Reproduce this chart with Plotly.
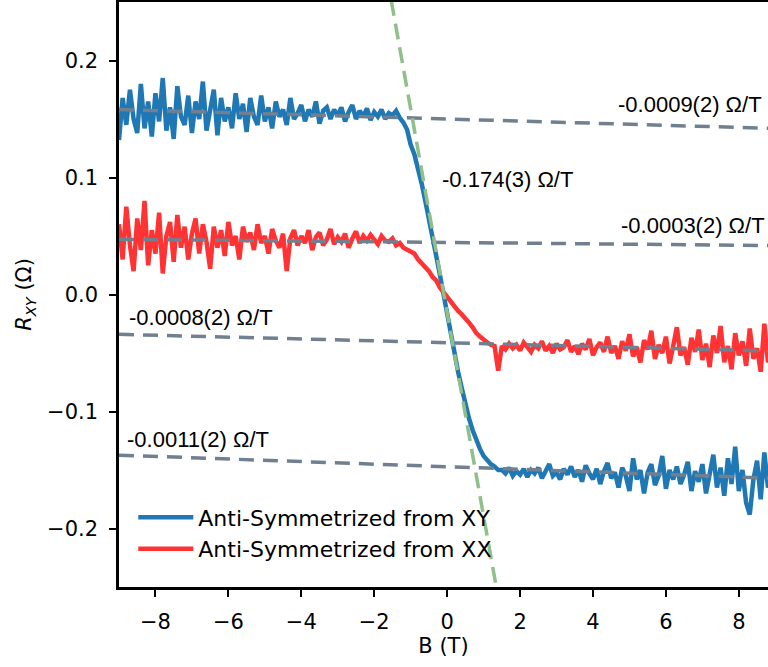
import numpy as np
import plotly.graph_objects as go

# Magnetic field grid (T)
B = np.round(np.arange(-9.0, 9.0001, 0.1), 1)

# Anti-symmetrized from XY (Ohm)
r_xy = [
    0.132, 0.168, 0.145, 0.175, 0.150, 0.138, 0.180, 0.142, 0.165, 0.135,
    0.172, 0.148, 0.185, 0.140, 0.160, 0.133, 0.178, 0.152, 0.145, 0.170,
    0.138, 0.165, 0.150, 0.182, 0.140, 0.158, 0.175, 0.136, 0.168, 0.148,
    0.160, 0.142, 0.172, 0.150, 0.163, 0.139, 0.168, 0.152, 0.145, 0.170,
    0.148, 0.160, 0.142, 0.165, 0.152, 0.158, 0.145, 0.168, 0.150, 0.155,
    0.162, 0.148, 0.158, 0.152, 0.165, 0.146, 0.157, 0.160, 0.150, 0.158,
    0.153, 0.160, 0.148, 0.156, 0.162, 0.150, 0.157, 0.152, 0.159, 0.149,
    0.156, 0.152, 0.158, 0.150, 0.155, 0.153, 0.157, 0.151, 0.147, 0.141,
    0.128, 0.120, 0.108, 0.095, 0.080, 0.065, 0.052, 0.033, 0.017, 0.000,
    -0.019, -0.033, -0.050, -0.066, -0.080, -0.095, -0.106, -0.116, -0.125, -0.132,
    -0.138, -0.142, -0.145, -0.147, -0.150,
    -0.150, -0.153, -0.148, -0.155, -0.151, -0.154, -0.149, -0.156, -0.150, -0.153,
    -0.148, -0.157, -0.151, -0.145, -0.155, -0.152, -0.158, -0.149, -0.154, -0.147,
    -0.156, -0.150, -0.160, -0.146, -0.153, -0.158, -0.149, -0.162, -0.151, -0.144,
    -0.157, -0.152, -0.165, -0.148, -0.155, -0.168, -0.140, -0.158, -0.150, -0.170,
    -0.152, -0.145, -0.163, -0.155, -0.138, -0.166, -0.150, -0.158, -0.147, -0.162,
    -0.154, -0.143, -0.168, -0.151, -0.160, -0.145, -0.170, -0.152, -0.137, -0.165,
    -0.148, -0.172, -0.140, -0.162, -0.130, -0.168, -0.150, -0.178, -0.188, -0.158,
    -0.142, -0.175, -0.135, -0.165, -0.150, -0.170,
]

# Anti-symmetrized from XX (Ohm)
r_xx = [
    0.060, 0.030, 0.075, 0.042, 0.020, 0.065, 0.038, 0.080, 0.025, 0.055,
    0.035, 0.070, 0.018, 0.050, 0.062, 0.028, 0.068, 0.040, 0.058, 0.030,
    0.052, 0.065, 0.035, 0.060, 0.045, 0.022, 0.058, 0.040, 0.055, 0.033,
    0.062, 0.042, 0.050, 0.030, 0.058, 0.045, 0.053, 0.038, 0.060, 0.044,
    0.050, 0.035, 0.056, 0.046, 0.040, 0.052, 0.020, 0.048, 0.055, 0.042,
    0.050, 0.044, 0.055, 0.038, 0.049, 0.053, 0.042, 0.047, 0.056, 0.043,
    0.049, 0.045, 0.052, 0.040, 0.048, 0.054, 0.044, 0.050, 0.046, 0.051,
    0.047, 0.043, 0.050, 0.046, 0.045, 0.048, 0.042, 0.044, 0.040, 0.038,
    0.037, 0.035, 0.030, 0.027, 0.024, 0.020, 0.015, 0.012, 0.006, 0.002,
    -0.002, -0.006, -0.011, -0.014, -0.017, -0.020, -0.024, -0.028, -0.033, -0.036,
    -0.039, -0.041, -0.043, -0.044, -0.065,
    -0.044, -0.047, -0.042, -0.046, -0.043, -0.048, -0.041, -0.045, -0.049, -0.043,
    -0.046, -0.040, -0.048, -0.044, -0.050, -0.042, -0.047, -0.045, -0.039, -0.049,
    -0.044, -0.051, -0.042, -0.047, -0.038, -0.052, -0.045, -0.041, -0.049, -0.036,
    -0.050, -0.044, -0.055, -0.040, -0.048, -0.034, -0.053, -0.045, -0.058, -0.039,
    -0.047, -0.031, -0.055, -0.043, -0.050, -0.036, -0.059, -0.044, -0.028, -0.052,
    -0.045, -0.060, -0.037, -0.049, -0.030, -0.056, -0.042, -0.062, -0.035, -0.050,
    -0.027, -0.058, -0.044, -0.064, -0.033, -0.052, -0.040, -0.061, -0.029, -0.055,
    -0.046, -0.066, -0.025, -0.058, -0.043, -0.060,
]

# Linear fits: slopes (Ohm/T) and intercepts (Ohm)
fit_slopes = [-0.0009, -0.0003, -0.0008, -0.0011]
fit_intercepts = [0.150, 0.0445, -0.0412, -0.1472]
fit_labels = ["-0.0009(2) Ω/T", "-0.0003(2) Ω/T", "-0.0008(2) Ω/T", "-0.0011(2) Ω/T"]
hall_slope = -0.174
hall_intercept = -0.0155
hall_label = "-0.174(3) Ω/T"

series_names = ["Anti-Symmetrized from XY", "Anti-Symmetrized from XX"]
series_colors = ["#1f77b4", "#ff3333"]

fig = go.Figure()
for name, ys, col in zip(series_names, [r_xy, r_xx], series_colors):
    fig.add_trace(go.Scatter(x=B, y=ys, mode="lines", name=name,
                             line=dict(color=col, width=4.5)))

fx = np.array([-9.0, 9.0])
for m, c in zip(fit_slopes, fit_intercepts):
    fig.add_trace(go.Scatter(x=fx, y=m * fx + c, mode="lines", showlegend=False,
                             line=dict(color="#708090", width=3.5, dash="15px,9px")))

hx = np.array([-2.0, 2.0])
fig.add_trace(go.Scatter(x=hx, y=hall_slope * hx + hall_intercept, mode="lines",
                         showlegend=False,
                         line=dict(color="#8fbf8a", width=3.5, dash="16px,8px")))

afont = dict(family="Liberation Sans, Arial", size=22, color="black")
ann = [
    dict(x=8.70, y=0.162, text=fit_labels[0], xanchor="right"),
    dict(x=8.78, y=0.059, text=fit_labels[1], xanchor="right"),
    dict(x=-8.78, y=-0.0196, text=fit_labels[2], xanchor="left"),
    dict(x=-8.83, y=-0.1235, text=fit_labels[3], xanchor="left"),
    dict(x=-0.19, y=0.098, text=hall_label, xanchor="left"),
]
for a in ann:
    fig.add_annotation(x=a["x"], y=a["y"], text=a["text"], xanchor=a["xanchor"],
                       yanchor="middle", showarrow=False, font=afont,
                       xref="x", yref="y")

fig.update_layout(
    width=768, height=667,
    margin=dict(l=119, r=0, t=2, b=80),
    paper_bgcolor="white", plot_bgcolor="white",
    font=dict(family="DejaVu Sans", size=21, color="black"),
    showlegend=True,
    legend=dict(x=0.022, y=0.155, xanchor="left", yanchor="top",
                bgcolor="rgba(0,0,0,0)", font=dict(family="DejaVu Sans", size=22),
                itemwidth=55, tracegroupgap=0),
    xaxis=dict(range=[-9.0, 8.80], tickvals=[-8, -6, -4, -2, 0, 2, 4, 6, 8],
               showgrid=False, zeroline=False, showline=True, linecolor="black",
               linewidth=2.5, mirror=True, ticks="outside", ticklen=7, tickwidth=2,
               tickcolor="black", tickfont=dict(size=21), ticklabelstandoff=7,
               title=dict(text="B (T)", standoff=0, font=dict(size=21))),
    yaxis=dict(range=[-0.25, 0.25], tickvals=[-0.2, -0.1, 0.0, 0.1, 0.2],
               tickformat=".1f",
               showgrid=False, zeroline=False, showline=True, linecolor="black",
               linewidth=2.5, ticks="outside", ticklen=7, tickwidth=2,
               tickcolor="black", tickfont=dict(size=21), ticklabelstandoff=7,
               title=dict(text="<i>R</i><sub><i>XY</i></sub> (Ω)", standoff=10,
                          font=dict(size=21))),
)

fig.write_html("out.html", config={"displayModeBar": False},
               post_script="document.body.style.margin='0';")
